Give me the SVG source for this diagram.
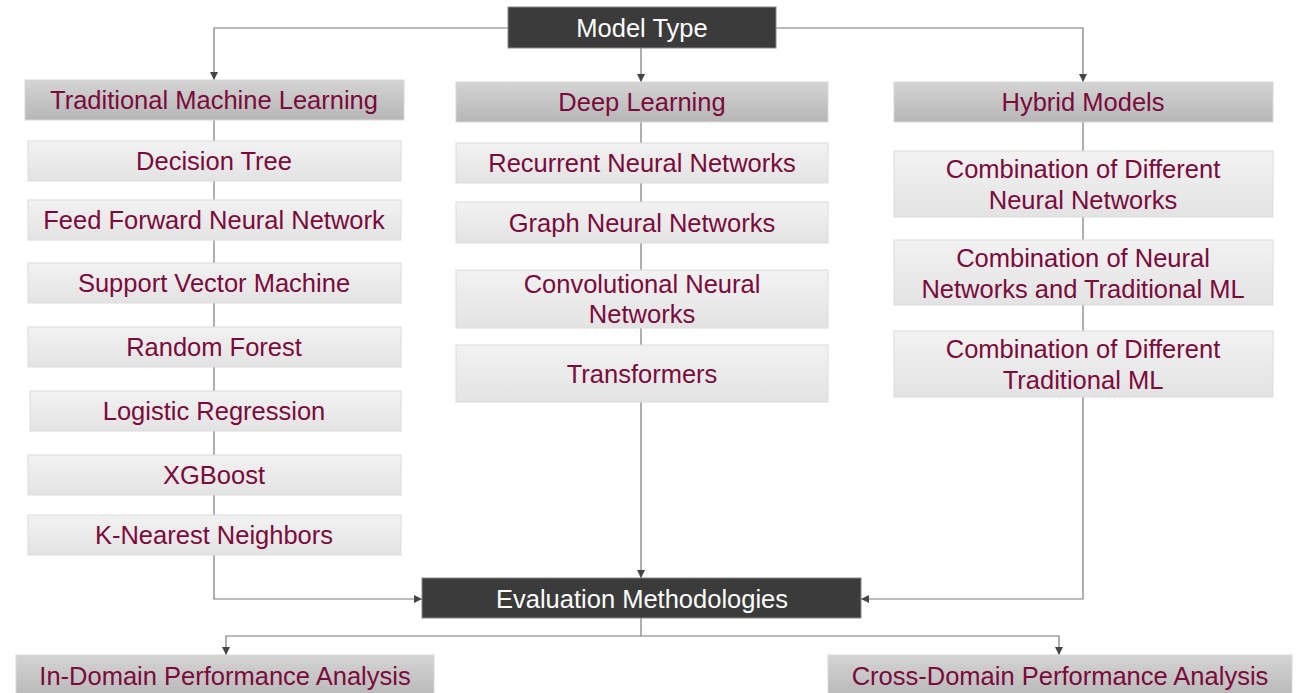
<svg xmlns="http://www.w3.org/2000/svg" width="1301" height="693" viewBox="0 0 1301 693">
<defs>
<linearGradient id="gHead" x1="0" y1="0" x2="0" y2="1"><stop offset="0" stop-color="#d4d4d4"/><stop offset="1" stop-color="#b6b6b6"/></linearGradient>
<linearGradient id="gItem" x1="0" y1="0" x2="0" y2="1"><stop offset="0" stop-color="#f2f2f2"/><stop offset="1" stop-color="#e3e3e3"/></linearGradient>
<marker id="arr" viewBox="0 0 10 10" refX="10" refY="5" markerWidth="8" markerHeight="8" markerUnits="userSpaceOnUse" orient="auto"><path d="M0,0 L10,5 L0,10 z" fill="#444"/></marker>
<style>
.dark{fill:#3b3b3b;stroke:#888;stroke-width:1}
.head{fill:url(#gHead);stroke:#d8d8d8;stroke-width:1}
.item{fill:url(#gItem);stroke:#dcdcdc;stroke-width:1}
.t{font-family:"Liberation Sans",Arial,sans-serif;font-size:25.5px;fill:#7b0a3c;text-anchor:middle}
.tw{font-family:"Liberation Sans",Arial,sans-serif;font-size:25.5px;fill:#ffffff;text-anchor:middle}
.c{fill:none;stroke:#7a7a7a;stroke-width:1.2}
</style>
</defs>
<rect width="1301" height="693" fill="#ffffff"/>
<g id="connectors">
<path class="c" d="M508,28 H214 V80" marker-end="url(#arr)"/>
<path class="c" d="M641,48 V82" marker-end="url(#arr)"/>
<path class="c" d="M776,28 H1083 V82" marker-end="url(#arr)"/>
<path class="c" d="M214,120 V515"/>
<path class="c" d="M641,122 V345"/>
<path class="c" d="M1083,122 V331"/>
<path class="c" d="M214,555 V599 H422" marker-end="url(#arr)"/>
<path class="c" d="M641,402 V578" marker-end="url(#arr)"/>
<path class="c" d="M1083,397 V599 H861" marker-end="url(#arr)"/>
<path class="c" d="M641,618 V636"/>
<path class="c" d="M641,636 H226 V655" marker-end="url(#arr)"/>
<path class="c" d="M641,636 H1059 V655" marker-end="url(#arr)"/>
</g>
<g id="model-type"><rect class="dark" x="508" y="7" width="268" height="41"/><text class="tw" x="642" y="37">Model Type</text></g>
<g id="traditional-ml"><rect class="head" x="25" y="80" width="379" height="40"/><text class="t" x="214" y="109">Traditional Machine Learning</text></g>
<g id="deep-learning"><rect class="head" x="456" y="82" width="372" height="40"/><text class="t" x="642" y="111">Deep Learning</text></g>
<g id="hybrid-models"><rect class="head" x="894" y="82" width="379" height="40"/><text class="t" x="1083" y="111">Hybrid Models</text></g>
<g id="decision-tree"><rect class="item" x="28" y="141" width="373" height="40"/><text class="t" x="214" y="170">Decision Tree</text></g>
<g id="ffnn"><rect class="item" x="28" y="200" width="373" height="40"/><text class="t" x="214" y="229">Feed Forward Neural Network</text></g>
<g id="svm"><rect class="item" x="28" y="263" width="373" height="40"/><text class="t" x="214" y="292">Support Vector Machine</text></g>
<g id="random-forest"><rect class="item" x="28" y="327" width="373" height="40"/><text class="t" x="214" y="356">Random Forest</text></g>
<g id="logistic-regression"><rect class="item" x="30" y="391" width="371" height="40"/><text class="t" x="214" y="420">Logistic Regression</text></g>
<g id="xgboost"><rect class="item" x="28" y="455" width="373" height="40"/><text class="t" x="214" y="484">XGBoost</text></g>
<g id="knn"><rect class="item" x="28" y="515" width="373" height="40"/><text class="t" x="214" y="544">K-Nearest Neighbors</text></g>
<g id="rnn"><rect class="item" x="456" y="143" width="372" height="40"/><text class="t" x="642" y="172">Recurrent Neural Networks</text></g>
<g id="gnn"><rect class="item" x="456" y="202" width="372" height="41"/><text class="t" x="642" y="232">Graph Neural Networks</text></g>
<g id="cnn"><rect class="item" x="456" y="270" width="372" height="58"/><text class="t" x="642" y="293">Convolutional Neural</text><text class="t" x="642" y="323">Networks</text></g>
<g id="transformers"><rect class="item" x="456" y="345" width="372" height="57"/><text class="t" x="642" y="383">Transformers</text></g>
<g id="comb-diff-nn"><rect class="item" x="894" y="151" width="379" height="66"/><text class="t" x="1083" y="178">Combination of Different</text><text class="t" x="1083" y="209">Neural Networks</text></g>
<g id="comb-nn-ml"><rect class="item" x="894" y="240" width="379" height="65"/><text class="t" x="1083" y="267">Combination of Neural</text><text class="t" x="1083" y="298">Networks and Traditional ML</text></g>
<g id="comb-diff-ml"><rect class="item" x="894" y="331" width="379" height="66"/><text class="t" x="1083" y="358">Combination of Different</text><text class="t" x="1083" y="389">Traditional ML</text></g>
<g id="evaluation"><rect class="dark" x="422" y="578" width="439" height="40"/><text class="tw" x="642" y="608">Evaluation Methodologies</text></g>
<g id="in-domain"><rect class="head" x="16" y="655" width="418" height="45"/><text class="t" x="225" y="685">In-Domain Performance Analysis</text></g>
<g id="cross-domain"><rect class="head" x="828" y="655" width="464" height="45"/><text class="t" x="1060" y="685">Cross-Domain Performance Analysis</text></g>
</svg>
